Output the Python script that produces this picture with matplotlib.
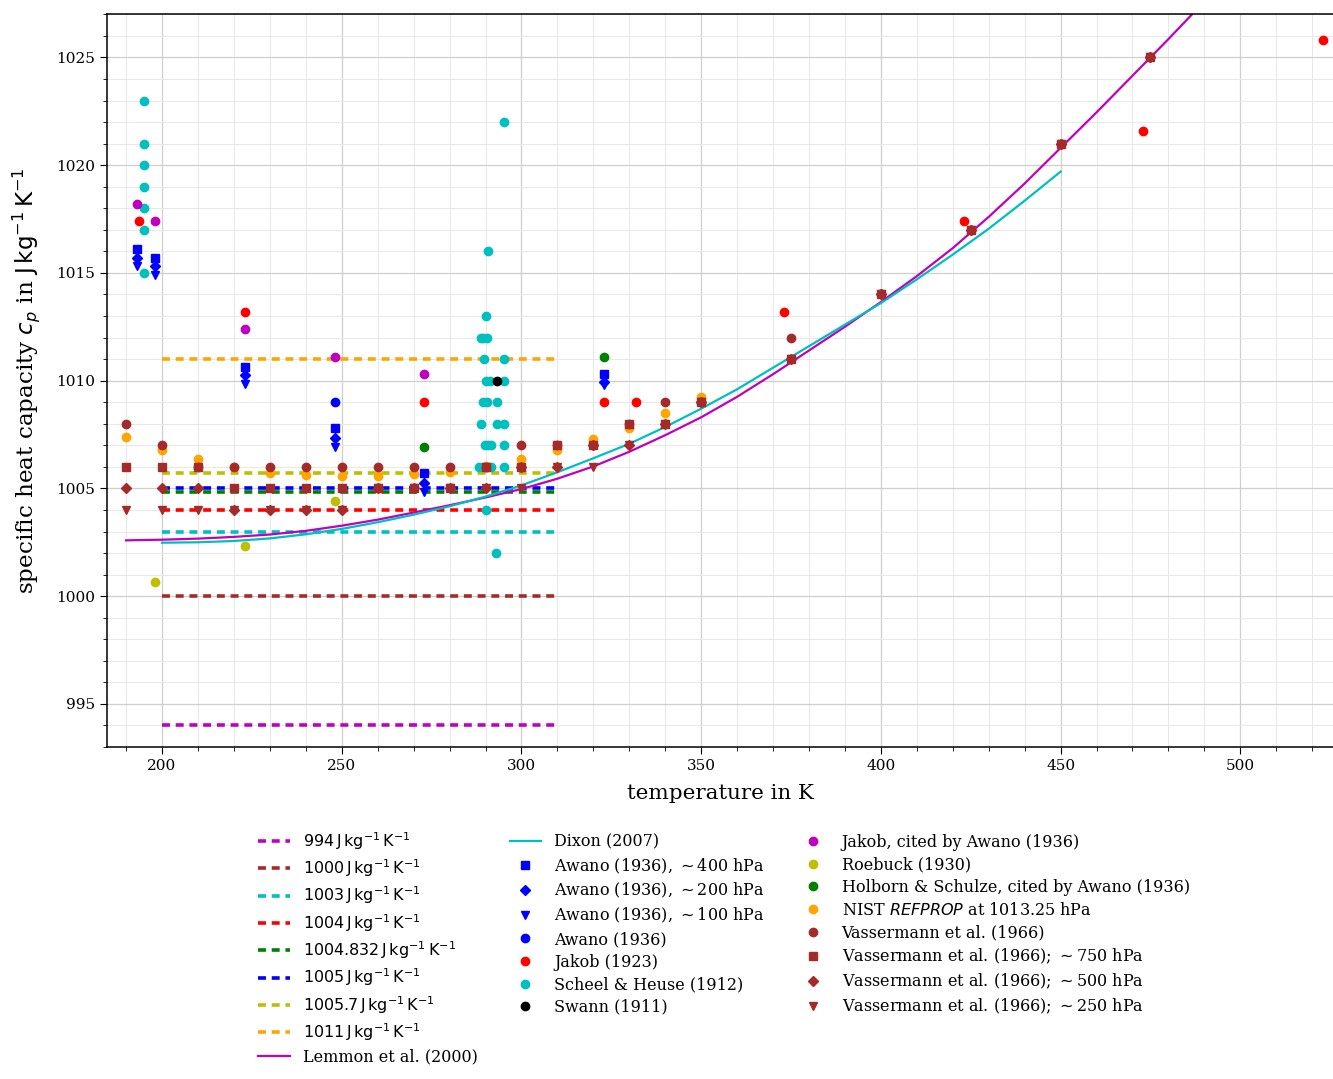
import numpy as np
import matplotlib
matplotlib.use("Agg")
import matplotlib.pyplot as plt
from matplotlib.ticker import MultipleLocator

plt.rcParams['font.family'] = 'DejaVu Serif'
plt.rcParams['mathtext.fontset'] = 'dejavusans'

######################## constant cp values used in models ########################
const_cp = [994, 1000, 1003, 1004, 1004.832, 1005, 1005.7, 1011]
const_colors = ['m', 'brown', 'c', 'r', 'g', 'b', 'y', 'orange']
const_trange = [200, 310]

######################## fitted curves ########################
lemmon_t = [190, 200, 210, 220, 230, 240, 250, 260, 270, 280, 290, 300, 310, 320,
            330, 340, 350, 360, 370, 380, 390, 400, 410, 420, 430, 440, 450, 460,
            470, 480, 490]
lemmon_cp = [1002.59, 1002.62, 1002.67, 1002.75, 1002.86, 1003.03, 1003.27, 1003.55,
             1003.88, 1004.22, 1004.58, 1004.97, 1005.45, 1006.02, 1006.7, 1007.47,
             1008.3, 1009.25, 1010.3, 1011.4, 1012.5, 1013.65, 1014.85, 1016.15,
             1017.6, 1019.15, 1020.8, 1022.45, 1024.15, 1025.85, 1027.6]

dixon_t = [200, 210, 220, 230, 240, 250, 260, 270, 280, 290, 300, 310, 320, 330,
           340, 350, 360, 370, 380, 390, 400, 410, 420, 430, 440, 450]
dixon_cp = [1002.48, 1002.5, 1002.56, 1002.68, 1002.87, 1003.12, 1003.43, 1003.78,
            1004.17, 1004.62, 1005.14, 1005.75, 1006.4, 1007.07, 1007.85, 1008.7,
            1009.6, 1010.6, 1011.6, 1012.6, 1013.6, 1014.7, 1015.85, 1017.05,
            1018.35, 1019.7]

######################## measurements ########################
awano_t = [193, 198, 223, 248, 273, 323]
awano_400 = [1016.1, 1015.7, 1010.65, 1007.8, 1005.7, 1010.3]
awano_200 = [1015.7, 1015.3, 1010.25, 1007.35, 1005.25, 1009.95]
awano_100 = [1015.3, 1014.9, 1009.85, 1006.9, 1004.85, 1009.8]

awano_plain_t = [248]
awano_plain_cp = [1009.0]

jakob_t = [193.6, 223, 273, 323, 332, 373, 423, 473, 523]
jakob_cp = [1017.4, 1013.2, 1009.0, 1009.0, 1009.0, 1013.2, 1017.4, 1021.6, 1025.8]

scheel_t = [195, 195, 195, 195, 195, 195, 195,
            295.2, 290.7, 290.1, 288.7, 289.4, 290.4, 289.6, 295.2,
            290.0, 291.2, 295.2, 289.4, 290.4, 293.1, 288.7, 293.1, 295.2,
            289.8, 290.6, 291.5, 295.2, 288.3, 289.2, 290.4, 291.6, 295.2,
            290.1, 292.8]
scheel_cp = [1023, 1021, 1020, 1019, 1018, 1017, 1015,
             1022, 1016, 1013, 1012, 1012, 1012, 1011, 1011,
             1010, 1010, 1010, 1009, 1009, 1009, 1008, 1008, 1008,
             1007, 1007, 1007, 1007, 1006, 1006, 1006, 1006, 1006,
             1004, 1002]

swann_t = [293.1]
swann_cp = [1010.0]

jakob_awano_t = [193, 198, 223, 248, 273]
jakob_awano_cp = [1018.2, 1017.4, 1012.4, 1011.1, 1010.3]

roebuck_t = [198, 223, 248]
roebuck_cp = [1000.65, 1002.35, 1004.4]

holborn_t = [273, 323]
holborn_cp = [1006.9, 1011.1]

nist_t = [190, 200, 210, 220, 230, 240, 250, 260, 270, 280, 290, 300, 310, 320,
          330, 340, 350]
nist_cp = [1007.4, 1006.8, 1006.35, 1006.0, 1005.73, 1005.6, 1005.56, 1005.57,
           1005.65, 1005.77, 1006.03, 1006.38, 1006.78, 1007.3, 1007.8, 1008.5,
           1009.23]

vas_t = [190, 200, 210, 220, 230, 240, 250, 260, 270, 280, 290, 300, 310, 320,
         330, 340, 350, 375, 400, 425, 450, 475]
vas_1000 = [1008, 1007, 1006, 1006, 1006, 1006, 1006, 1006, 1006, 1006, 1006,
            1007, 1007, 1007, 1008, 1009, 1009, 1012, 1014, 1017, 1021, 1025]
vas_750 = [1006, 1006, 1006, 1005, 1005, 1005, 1005, 1005, 1005, 1005, 1006,
           1006, 1007, 1007, 1008, 1008, 1009, 1011, 1014, 1017, 1021, 1025]
vas_500 = [1005, 1005, 1005, 1004, 1004, 1004, 1004, 1005, 1005, 1005, 1005,
           1006, 1006, 1007, 1007, 1008, 1009, 1011, 1014, 1017, 1021, 1025]
vas_250 = [1004, 1004, 1004, 1004, 1004, 1004, 1004, 1005, 1005, 1005, 1005,
           1005, 1006, 1006, 1007, 1008, 1009, 1011, 1014, 1017, 1021, 1025]

unit = r'\,\mathrm{J\,kg^{-1}\,K^{-1}}'

######################## plot ########################
fig = plt.figure(figsize=(13.33, 10.79), dpi=100)
ax = fig.add_axes([0.0803, 0.3077, 0.9197, 0.679])

for val, col in zip(const_cp, const_colors):
    ax.plot(const_trange, [val, val], color=col, lw=2.6, linestyle=(0, (2.2, 1.6)),
            label='$%s%s$' % (str(val), unit))

ax.plot(lemmon_t, lemmon_cp, color='m', lw=1.6, label='Lemmon et al. (2000)')
ax.plot(dixon_t, dixon_cp, color='c', lw=1.6, label='Dixon (2007)')

ms = 6
ax.plot(awano_t, awano_400, 's', color='b', ms=5.5, ls='none',
        label=r'Awano (1936), $\sim$400 hPa')
ax.plot(awano_t, awano_200, 'D', color='b', ms=5, ls='none',
        label=r'Awano (1936), $\sim$200 hPa')
ax.plot(awano_t, awano_100, 'v', color='b', ms=6, ls='none',
        label=r'Awano (1936), $\sim$100 hPa')
ax.plot(awano_plain_t, awano_plain_cp, 'o', color='b', ms=ms, ls='none',
        label='Awano (1936)')
ax.plot(jakob_t, jakob_cp, 'o', color='r', ms=ms, ls='none', label='Jakob (1923)')
ax.plot(scheel_t, scheel_cp, 'o', color='c', ms=ms, ls='none',
        label='Scheel & Heuse (1912)')
ax.plot(swann_t, swann_cp, 'o', color='k', ms=ms, ls='none', label='Swann (1911)')
ax.plot(jakob_awano_t, jakob_awano_cp, 'o', color='m', ms=ms, ls='none',
        label='Jakob, cited by Awano (1936)')
ax.plot(roebuck_t, roebuck_cp, 'o', color='y', ms=ms, ls='none',
        label='Roebuck (1930)')
ax.plot(holborn_t, holborn_cp, 'o', color='g', ms=ms, ls='none',
        label='Holborn & Schulze, cited by Awano (1936)')
ax.plot(nist_t, nist_cp, 'o', color='orange', ms=ms, ls='none',
        label=r'NIST $\it{REFPROP}$ at 1013.25 hPa')
ax.plot(vas_t, vas_1000, 'o', color='brown', ms=ms, ls='none',
        label='Vassermann et al. (1966)')
ax.plot(vas_t, vas_750, 's', color='brown', ms=5.5, ls='none',
        label=r'Vassermann et al. (1966); $\sim$750 hPa')
ax.plot(vas_t, vas_500, 'D', color='brown', ms=5, ls='none',
        label=r'Vassermann et al. (1966); $\sim$500 hPa')
ax.plot(vas_t, vas_250, 'v', color='brown', ms=6, ls='none',
        label=r'Vassermann et al. (1966); $\sim$250 hPa')

ax.set_xlim(184.7, 525.8)
ax.set_ylim(993, 1027)
ax.xaxis.set_major_locator(MultipleLocator(50))
ax.xaxis.set_minor_locator(MultipleLocator(10))
ax.yaxis.set_major_locator(MultipleLocator(5))
ax.yaxis.set_minor_locator(MultipleLocator(1))
ax.grid(which='major', color='#cfcfcf', lw=0.9)
ax.grid(which='minor', color='#e8e8e8', lw=0.7)
ax.set_axisbelow(True)
ax.tick_params(which='major', length=5, labelsize=11)
ax.tick_params(which='minor', length=3)
for s in ax.spines.values():
    s.set_linewidth(1.1)
ax.spines['right'].set_visible(False)

ax.set_xlabel('temperature in K', fontsize=15.4, labelpad=8)
ax.set_ylabel(r'specific heat capacity $c_p$ in $\mathrm{J\,kg^{-1}\,K^{-1}}$',
              fontsize=16.6, labelpad=10)

fig.legend(*ax.get_legend_handles_labels(), loc='upper center',
           bbox_to_anchor=(0.543, 0.244), ncol=3, frameon=False, fontsize=11.5,
           numpoints=1, labelspacing=0.35)

fig.savefig('out.png', dpi=100)
